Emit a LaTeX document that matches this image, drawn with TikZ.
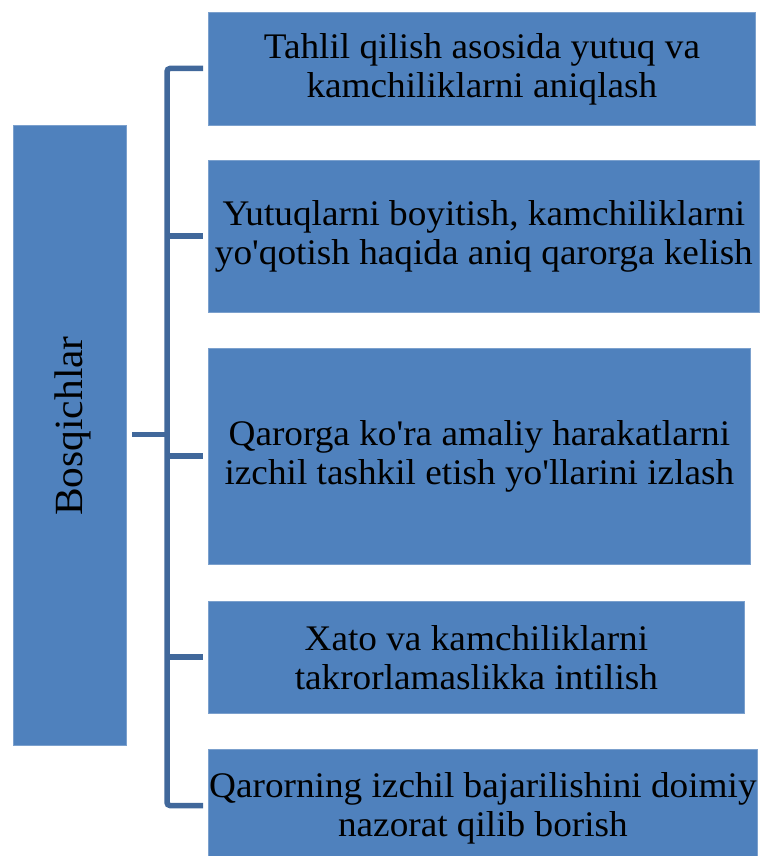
\documentclass[tikz,border=0pt]{standalone}
\usepackage{fontspec}
\setmainfont[FakeStretch=1.035, Ligatures=TeXOff]{Liberation Serif}
\definecolor{boxblue}{HTML}{4F81BD}
\definecolor{boxedge}{HTML}{7BA0CD}
\definecolor{linkblue}{HTML}{41689B}
\begin{document}
\begin{tikzpicture}[x=1pt,y=-1pt,
  stage/.style={fill=boxblue, draw=boxedge, line width=0.8pt, inner sep=0pt,
    anchor=north west, align=center, font=\fontsize{36}{39}\selectfont},
  link/.style={draw=linkblue, line width=5.5pt}]
\useasboundingbox (0,0) rectangle (760,856);
\node[stage, minimum width=113, minimum height=620] (L) at (13,125) {};
\node[rotate=90, inner sep=0pt, font=\fontsize{40}{42}\selectfont] (Lt) at (73,426) {Bosqichlar};
\node[stage, minimum width=547, minimum height=113] (b1) at (208,12)
  {Tahlil qilish asosida yutuq va\\kamchiliklarni aniqlash};
\node[stage, minimum width=551, minimum height=152] (b2) at (208,160)
  {Yutuqlarni boyitish, kamchiliklarni\\yo'qotish haqida aniq qarorga kelish};
\node[stage, minimum width=542, minimum height=216] (b3) at (208,348)
  {Qarorga ko'ra amaliy harakatlarni\\izchil tashkil etish yo'llarini izlash};
\node[stage, minimum width=536, minimum height=112] (b4) at (208,601)
  {Xato va kamchiliklarni\\takrorlamaslikka intilish};
\node[stage, minimum width=549, minimum height=118] (b5) at (208,749)
  {Qarorning izchil bajarilishini doimiy\\nazorat qilib borish};
% connector coordinates
\coordinate (stub) at (132,434.5);
\coordinate (sp0) at (167,434.5);
\coordinate (sp1) at (167,68.5);
\coordinate (sp2) at (167,236);
\coordinate (sp3) at (167,456);
\coordinate (sp4) at (167,657);
\coordinate (sp5) at (167,805.5);
\coordinate (t1) at (203,68.5);
\coordinate (t2) at (203,236);
\coordinate (t3) at (203,456);
\coordinate (t4) at (203,657);
\coordinate (t5) at (203,805.5);
\draw[link] (stub) -- (sp0);
\draw[link, rounded corners=3pt] (t1) -- (sp1) -- (sp5) -- (t5);
\draw[link] (sp2) -- (t2);
\draw[link] (sp3) -- (t3);
\draw[link] (sp4) -- (t4);
\end{tikzpicture}
\end{document}
